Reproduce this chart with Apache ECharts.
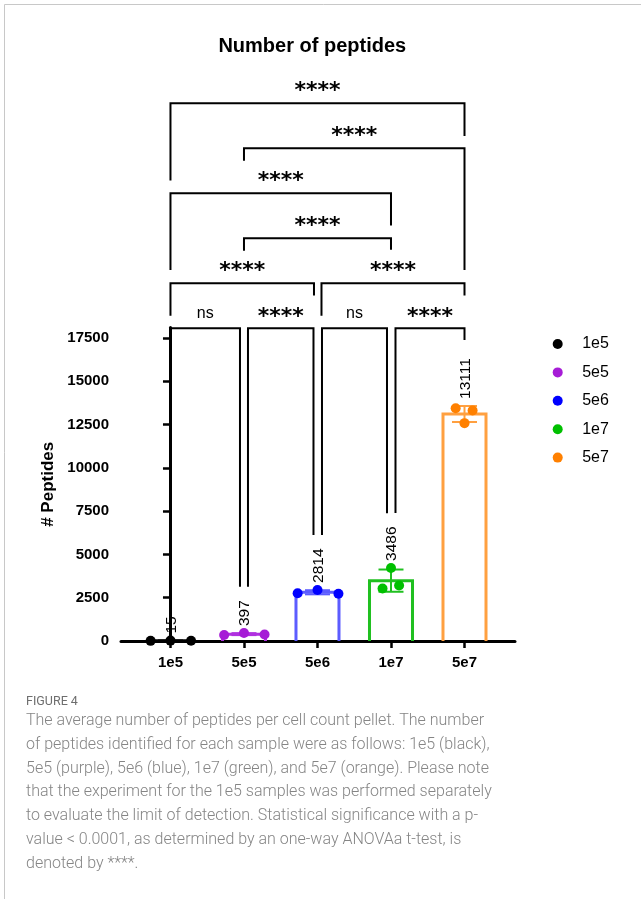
<!DOCTYPE html>
<html><head><meta charset="utf-8">
<script src="https://cdn.jsdelivr.net/npm/echarts@6/dist/echarts.min.js"></script>
<style>html,body{margin:0;padding:0;background:#fff}#c{width:641px;height:899px}</style>
</head><body><div id="c"></div>
<script>
// ---- data ----
const categories = ['1e5', '5e5', '5e6', '1e7', '5e7'];
const means = [15, 397, 2814, 3486, 13111];
const sds = [7, 57, 119, 642, 462];
const rep1e5 = [8, 22, 15];
const rep5e5 = [350, 460, 380];
const rep5e6 = [2760, 2950, 2730];
const rep1e7 = [3030, 4220, 3208];
const rep5e7 = [13440, 12583, 13310];
const replicates = [rep1e5, rep5e5, rep5e6, rep1e7, rep5e7];
const yTicks = [0, 2500, 5000, 7500, 10000, 12500, 15000, 17500];
// significance comparisons
const compFrom = [0, 1, 0, 1, 0, 2, 0, 1, 2, 3];
const compTo   = [4, 4, 3, 3, 2, 4, 1, 2, 3, 4];
const compSig  = ['****', '****', '****', '****', '****', '****', 'ns', '****', 'ns', '****'];

// ---- layout / style ----
const compLevel = [5, 4, 3, 2, 1, 1, 0, 0, 0, 0];
const levelBase = 18060, levelStep = 2600;
const legEndFrom = [26590, 27740, 21430, 22540, 18790, 18790, 2180, 3140, 6120, 7390];
const legEndTo   = [29170, 21430, 23990, 22590, 19950, 19950, 3140, 6120, 7380, 17390];
const legShiftFrom = [0, 0, 0, 0, 0, 4, 0, 4, 4.5, 4.5];
const legShiftTo   = [0, 0, 0, 0, -3.5, 0, -4, -4, -4, 0];
const jitter = [[-0.27, 0, 0.28], [-0.27, 0, 0.28], [-0.27, 0, 0.285], [-0.115, 0, 0.11], [-0.12, 0, 0.11]];
const pointColors = ['#000000', '#a61cd6', '#0000ff', '#00c000', '#ff8000'];
const barColors = ['#000000', '#b030e0', '#5c5cff', '#20c020', '#ffa040'];
const FONT = "'Liberation Sans', Arial, sans-serif";

const chart = echarts.init(document.getElementById('c'), null, {renderer: 'canvas'});

const scatterSeries = categories.map((c, k) => ({
  type: 'scatter', name: c, z: 5, clip: false,
  symbolSize: 10,
  itemStyle: {color: pointColors[k], opacity: 1},
  data: replicates[k].map((v, j) => [k + jitter[k][j], v])
}));

const barSeries = {
  type: 'custom', name: 'bars', z: 3, clip: false,
  data: categories.map((c, i) => [i, means[i], sds[i]]),
  encode: {x: 0, y: 1},
  renderItem: function (params, api) {
    const i = params.dataIndex;
    const m = means[i], sd = sds[i];
    const col = barColors[i];
    const y0 = api.coord([i, 0])[1];
    const yt = api.coord([i, m])[1];
    const xl = api.coord([i - 0.2925, 0])[0];
    const xr = api.coord([i + 0.2925, 0])[0];
    const xc = api.coord([i, 0])[0];
    const ch = api.coord([i - 0.17, 0])[0], cr = api.coord([i + 0.17, 0])[0];
    const yHi = api.coord([i, m + sd])[1], yLo = api.coord([i, m - sd])[1];
    const topVal = Math.max(m + sd, Math.max.apply(null, replicates[i]));
    const yLab = api.coord([i, topVal])[1] - 7;
    return {
      type: 'group',
      children: [
        {type: 'polyline', shape: {points: [[xl, y0], [xl, yt], [xr, yt], [xr, y0]]},
          style: {stroke: col, lineWidth: 3, fill: null}},
        {type: 'line', shape: {x1: xc, y1: yLo, x2: xc, y2: yHi}, style: {stroke: col, lineWidth: 2}},
        {type: 'line', shape: {x1: ch, y1: yHi, x2: cr, y2: yHi}, style: {stroke: col, lineWidth: 2}},
        {type: 'line', shape: {x1: ch, y1: yLo, x2: cr, y2: yLo}, style: {stroke: col, lineWidth: 2}},
        {type: 'text', x: xc + 1, y: yLab, rotation: Math.PI / 2,
          style: {text: String(m), font: '15.5px ' + FONT, fill: '#000', align: 'left', verticalAlign: 'middle'}}
      ]
    };
  }
};

const bracketSeries = {
  type: 'custom', name: 'brackets', z: 4, clip: false,
  data: compFrom.map((f, i) => [f, compTo[i], levelBase + compLevel[i] * levelStep]),
  encode: {x: [0, 1], y: 2},
  renderItem: function (params, api) {
    const i = params.dataIndex;
    const yv = levelBase + compLevel[i] * levelStep;
    const x1 = api.coord([compFrom[i], 0])[0] + legShiftFrom[i];
    const x2 = api.coord([compTo[i], 0])[0] + legShiftTo[i];
    const y = api.coord([0, yv])[1];
    const yl1 = api.coord([0, legEndFrom[i]])[1];
    const yl2 = api.coord([0, legEndTo[i]])[1];
    const isNs = compSig[i] === 'ns';
    return {
      type: 'group',
      children: [
        {type: 'polyline', shape: {points: [[x1, yl1], [x1, y], [x2, y], [x2, yl2]]},
          style: {stroke: '#000', lineWidth: 2, fill: null}},
        {type: 'text', x: (x1 + x2) / 2, y: isNs ? y - 15 : y - 11.5,
          style: {text: compSig[i], fill: '#000',
            font: isNs ? '16px ' + FONT : "bold 22px 'DejaVu Sans', sans-serif",
            align: 'center', verticalAlign: 'middle'}}
      ]
    };
  }
};

const captionLines = [
  'The average number of peptides per cell count pellet. The number',
  'of peptides identified for each sample were as follows: 1e5 (black),',
  '5e5 (purple), 5e6 (blue), 1e7 (green), and 5e7 (orange). Please note',
  'that the experiment for the 1e5 samples was performed separately',
  'to evaluate the limit of detection. Statistical significance with a p-',
  'value < 0.0001, as determined by an one-way ANOVAa t-test, is',
  'denoted by ****.'
];

chart.setOption({
  animation: false,
  backgroundColor: '#fff',
  grid: {left: 121, right: 126, top: 327.6, bottom: 258},
  xAxis: {
    type: 'value', min: -0.673, max: 4.687,
    axisLine: {lineStyle: {color: '#000', width: 3}},
    axisTick: {customValues: [0, 1, 2, 3, 4], length: 7, lineStyle: {color: '#000', width: 2.5}},
    axisLabel: {customValues: [0, 1, 2, 3, 4], formatter: v => categories[Math.round(v)] || '',
      margin: 14, color: '#000', fontWeight: 'bold', fontSize: 15, fontFamily: FONT},
    splitLine: {show: false}
  },
  yAxis: {
    type: 'value', min: 0, max: 18100, interval: 2500,
    name: '# Peptides', nameLocation: 'middle', nameGap: 56,
    nameTextStyle: {color: '#000', fontWeight: 'bold', fontSize: 17, fontFamily: FONT},
    axisLine: {show: true, lineStyle: {color: '#000', width: 3}},
    axisTick: {show: true, customValues: yTicks, length: 7.5, lineStyle: {color: '#000', width: 2.5}},
    axisLabel: {customValues: yTicks, formatter: v => String(v), margin: 12, color: '#000',
      fontWeight: 'bold', fontSize: 15, fontFamily: FONT},
    splitLine: {show: false}
  },
  legend: {
    orient: 'vertical', left: 547.7, top: 331, itemWidth: 39, itemHeight: 10, itemGap: 12.4,
    icon: 'circle', selectedMode: false,
    data: categories,
    textStyle: {color: '#000', fontSize: 16, fontFamily: FONT}
  },
  graphic: [
    {type: 'rect', shape: {x: 4.5, y: 4.5, width: 700, height: 1000}, style: {fill: null, stroke: '#c8c8c8', lineWidth: 1}, silent: true},
    {type: 'text', x: 312.3, y: 46, style: {text: 'Number of peptides', font: 'bold 20px ' + FONT, fill: '#000', align: 'center', verticalAlign: 'middle'}},
    {type: 'text', x: 26, y: 702, style: {text: 'FIGURE 4', font: '12.5px Roboto, sans-serif', fill: '#6e6e6e', align: 'left', verticalAlign: 'middle'}},
    {type: 'text', x: 26, y: 709, style: {text: captionLines.join('\n'), font: '300 16px Roboto, sans-serif', lineHeight: 23.8, fill: '#858585', align: 'left', verticalAlign: 'top'}}
  ],
  series: [barSeries].concat(scatterSeries, [bracketSeries])
});
</script>
</body></html>
